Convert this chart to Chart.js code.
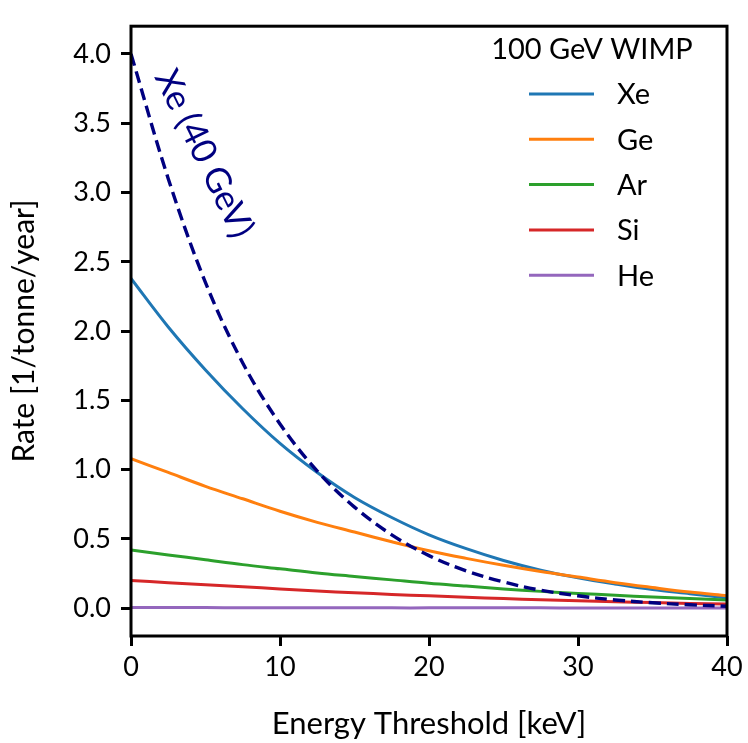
<!DOCTYPE html>
<html><head><meta charset="utf-8">
<script src="https://cdn.jsdelivr.net/npm/chart.js@4"></script>
<style>html,body{margin:0;padding:0;background:#fff}canvas{display:block}</style>
</head><body>
<canvas id="c" width="748" height="743"></canvas>
<script>
// ---- data ----
const energy   = [0, 2.5, 5, 7.5, 10, 12.5, 15, 17.5, 20, 22.5, 25, 27.5, 30, 32.5, 35, 37.5, 40];
const rateXe   = [2.38, 2.03, 1.72, 1.44, 1.19, 0.98, 0.80, 0.655, 0.53, 0.43, 0.345, 0.275, 0.22, 0.175, 0.135, 0.105, 0.075];
const rateGe   = [1.08, 0.98, 0.88, 0.79, 0.70, 0.62, 0.55, 0.48, 0.415, 0.36, 0.31, 0.265, 0.225, 0.185, 0.15, 0.117, 0.09];
const rateAr   = [0.42, 0.385, 0.35, 0.315, 0.285, 0.255, 0.23, 0.205, 0.18, 0.16, 0.14, 0.122, 0.107, 0.094, 0.081, 0.07, 0.06];
const rateSi   = [0.20, 0.185, 0.17, 0.155, 0.14, 0.125, 0.112, 0.10, 0.09, 0.08, 0.07, 0.062, 0.055, 0.047, 0.041, 0.035, 0.03];
const rateHe   = [0.005, 0.005, 0.005, 0.004, 0.004, 0.004, 0.004, 0.003, 0.003, 0.003, 0.003, 0.003, 0.002, 0.002, 0.002, 0.002, 0.002];
const rateXe40 = [4.0, 3.10, 2.35, 1.77, 1.33, 0.99, 0.73, 0.53, 0.38, 0.27, 0.19, 0.13, 0.09, 0.06, 0.04, 0.025, 0.015];
const seriesLabels = ['Xe', 'Ge', 'Ar', 'Si', 'He'];
const seriesColors = ['#1f77b4', '#ff7f0e', '#2ca02c', '#d62728', '#9467bd'];
const legendTitle = '100 GeV WIMP';
const annotationLabel = 'Xe (40 GeV)';
const annotationAt = {x: 4.9, y: 3.28};
const xTicks = [0, 10, 20, 30, 40];
const yTicks = [0, 0.5, 1.0, 1.5, 2.0, 2.5, 3.0, 3.5, 4.0];
const xTitle = 'Energy Threshold [keV]';
const yTitle = 'Rate [1/tonne/year]';

const FONT = 'Lato';
const pts = arr => energy.map((e, i) => ({x: e, y: arr[i]}));
const series100 = [rateXe, rateGe, rateAr, rateSi, rateHe];

const datasets = series100.map((arr, i) => ({
  label: seriesLabels[i], data: pts(arr), borderColor: seriesColors[i],
  borderWidth: 3, pointRadius: 0, tension: 0.35,
  order: 10 - i, inLegend: true
}));
datasets.push({
  label: annotationLabel, data: pts(rateXe40), borderColor: '#000080',
  borderWidth: 3.4, borderDash: [12, 6], pointRadius: 0,
  tension: 0.35, order: 0, inLegend: false
});

const framePlugin = {
  id: 'frame',
  afterDraw(chart) {
    const {ctx, chartArea: a} = chart;
    ctx.save();
    ctx.strokeStyle = '#000'; ctx.lineWidth = 3;
    ctx.strokeRect(a.left, a.top, a.right - a.left, a.bottom - a.top);
    ctx.restore();
  }
};

const legendPlugin = {
  id: 'innerLegend',
  afterDatasetsDraw(chart) {
    const {ctx} = chart;
    ctx.save();
    ctx.fillStyle = '#000';
    ctx.font = `29px ${FONT}`;
    ctx.textAlign = 'center'; ctx.textBaseline = 'middle';
    ctx.fillText(legendTitle, 592, 50);
    ctx.textAlign = 'left';
    let row = 0;
    chart.data.datasets.forEach(ds => {
      if (!ds.inLegend) return;
      const y = 94 + row * 45.3;
      ctx.strokeStyle = ds.borderColor; ctx.lineWidth = 3;
      ctx.beginPath(); ctx.moveTo(529, y); ctx.lineTo(594, y); ctx.stroke();
      ctx.fillStyle = '#000';
      ctx.fillText(ds.label, 617, y + 1);
      row++;
    });
    ctx.restore();
  }
};

const annotationPlugin = {
  id: 'curveLabel',
  afterDatasetsDraw(chart) {
    const {ctx, scales} = chart;
    const px = scales.x.getPixelForValue(annotationAt.x);
    const py = scales.y.getPixelForValue(annotationAt.y);
    ctx.save();
    ctx.translate(px, py);
    ctx.rotate(64 * Math.PI / 180);
    ctx.fillStyle = '#000080';
    ctx.font = `35px ${FONT}`;
    ctx.textAlign = 'center'; ctx.textBaseline = 'middle';
    ctx.fillText(annotationLabel, 0, 0);
    ctx.restore();
  }
};

new Chart(document.getElementById('c'), {
  type: 'line',
  data: {datasets},
  options: {
    responsive: false, animation: false, devicePixelRatio: 1,
    layout: {padding: {top: 8, right: 21, bottom: 0, left: 0}},
    plugins: {legend: {display: false}, tooltip: {enabled: false}},
    scales: {
      x: {
        type: 'linear', min: 0, max: 40,
        afterBuildTicks: s => { s.ticks = xTicks.map(v => ({value: v})); },
        afterFit: s => { s.height = 107; },
        grid: {drawOnChartArea: false, drawTicks: true, tickLength: 10, tickWidth: 3, tickColor: '#000'},
        border: {display: false},
        ticks: {color: '#000', font: {family: FONT, size: 27}, padding: 5, maxRotation: 0,
                callback: v => String(v)},
        title: {display: true, text: xTitle, color: '#000', font: {family: FONT, size: 31},
                padding: {top: 10, bottom: 0}}
      },
      y: {
        type: 'linear', min: -0.2, max: 4.2,
        afterBuildTicks: s => { s.ticks = yTicks.map(v => ({value: v})); },
        afterFit: s => { s.width = 131; },
        grid: {drawOnChartArea: false, drawTicks: true, tickLength: 10, tickWidth: 3, tickColor: '#000'},
        border: {display: false},
        ticks: {color: '#000', font: {family: FONT, size: 27}, padding: 10,
                callback: v => Number(v).toFixed(1)},
        title: {display: true, text: yTitle, color: '#000', font: {family: FONT, size: 30},
                padding: {top: 6, bottom: 0}}
      }
    }
  },
  plugins: [framePlugin, legendPlugin, annotationPlugin]
});
</script>
</body></html>
